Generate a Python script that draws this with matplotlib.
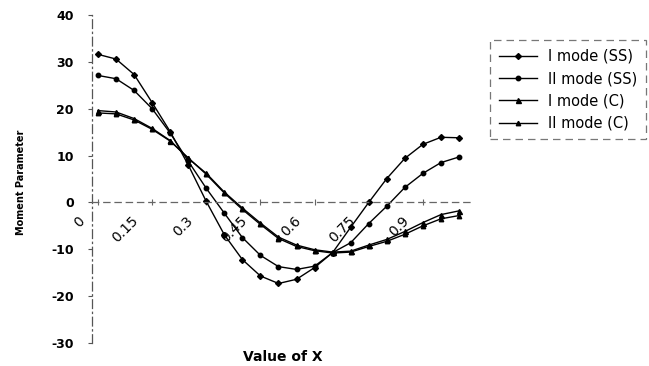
import numpy as np
import matplotlib
matplotlib.use('Agg')
import matplotlib.pyplot as plt
from matplotlib.transforms import ScaledTranslation

# Position along the member (category axis, every 0.05)
x_vals = [0.00, 0.05, 0.10, 0.15, 0.20, 0.25, 0.30, 0.35, 0.40, 0.45, 0.50,
          0.55, 0.60, 0.65, 0.70, 0.75, 0.80, 0.85, 0.90, 0.95, 1.00]

# Moment parameter for each mode / boundary condition
mode1_ss = [31.6, 30.6, 27.3, 21.3, 15.1, 8.0, 0.2, -6.9, -12.2, -15.7, -17.3,
            -16.4, -13.9, -10.7, -5.3, 0.0, 5.1, 9.4, 12.4, 13.9, 13.8]
mode2_ss = [27.1, 26.4, 23.9, 20.0, 14.8, 8.8, 3.0, -2.3, -7.5, -11.3, -13.7,
            -14.3, -13.6, -10.7, -8.6, -4.5, -0.8, 3.2, 6.2, 8.5, 9.7]
mode1_c = [19.6, 19.3, 17.9, 15.8, 13.2, 9.4, 6.2, 2.2, -1.2, -4.4, -7.4,
           -9.1, -10.1, -10.6, -10.4, -9.1, -7.9, -6.2, -4.3, -2.6, -1.8]
mode2_c = [19.1, 18.9, 17.6, 15.6, 13.1, 9.5, 6.0, 2.0, -1.5, -4.7, -7.7,
           -9.4, -10.3, -10.8, -10.6, -9.4, -8.3, -6.8, -5.0, -3.5, -2.8]

x_ticks = [0.0, 0.15, 0.30, 0.45, 0.60, 0.75, 0.90]
x_ticklabels = ['0', '0.15', '0.3', '0.45', '0.6', '0.75', '0.9']
y_ticks = [-30, -20, -10, 0, 10, 20, 30, 40]

fig = plt.figure(figsize=(6.49, 3.66), dpi=100)
ax = fig.add_axes([92 / 649, 23 / 366, 378 / 649, 328 / 366])

series = [
    (mode1_ss, 'I mode (SS)', 'D', 3.0),
    (mode2_ss, 'II mode (SS)', 'o', 3.2),
    (mode1_c, 'I mode (C)', '^', 3.6),
    (mode2_c, 'II mode (C)', '^', 3.2),
]
for vals, lab, mk, ms in series:
    ax.plot(x_vals, vals, color='black', lw=1.0, marker=mk, markersize=ms,
            label=lab)

ax.set_xlim(-0.0166, -0.0166 + 378 / 361)
ax.set_ylim(-30, 40)

# axes styling: dashed category axis crossing at zero
for side in ['top', 'right']:
    ax.spines[side].set_visible(False)
ax.spines['bottom'].set_position(('data', 0))
ax.spines['bottom'].set_linestyle((0, (5, 4)))
ax.spines['bottom'].set_color('#666666')
ax.spines['bottom'].set_linewidth(0.9)
ax.spines['left'].set_linestyle((0, (7, 3, 1, 3)))
ax.spines['left'].set_color('#555555')
ax.spines['left'].set_linewidth(0.9)

ax.set_yticks(y_ticks)
ax.set_yticklabels([str(v) for v in y_ticks], fontsize=9, fontweight='bold',
                   family='DejaVu Sans')
ax.tick_params(axis='y', direction='out', length=3, width=0.8, pad=10,
               color='#555555')

ax.set_xticks(x_ticks)
ax.set_xticklabels(x_ticklabels, fontsize=10, family='DejaVu Sans',
                   rotation=45, ha='right')
ax.tick_params(axis='x', direction='inout', length=4, width=0.8, pad=6,
               color='#666666')
shift = ScaledTranslation(-0.11, 0, fig.dpi_scale_trans)
for t in ax.get_xticklabels():
    t.set_transform(t.get_transform() + shift)

ax.set_xlabel('Value of X', fontsize=10, fontweight='bold', family='DejaVu Sans')
ax.xaxis.set_label_coords(0.505, -0.02)
ax.set_ylabel('Moment Parameter', fontsize=7, fontweight='bold',
              family='DejaVu Sans')
ax.yaxis.set_label_coords(-0.175, 0.49)

leg = ax.legend(loc='upper left', bbox_to_anchor=(490 / 649, 1 - 40 / 366),
                bbox_transform=fig.transFigure, frameon=True, fancybox=False,
                prop={'family': 'DejaVu Sans', 'size': 10.5},
                handlelength=2.6, labelspacing=0.5, borderpad=0.6,
                handletextpad=0.8, borderaxespad=0)
frame = leg.get_frame()
frame.set_linestyle((0, (6, 4)))
frame.set_edgecolor('#555555')
frame.set_linewidth(0.9)

fig.savefig('out.png', dpi=100)
